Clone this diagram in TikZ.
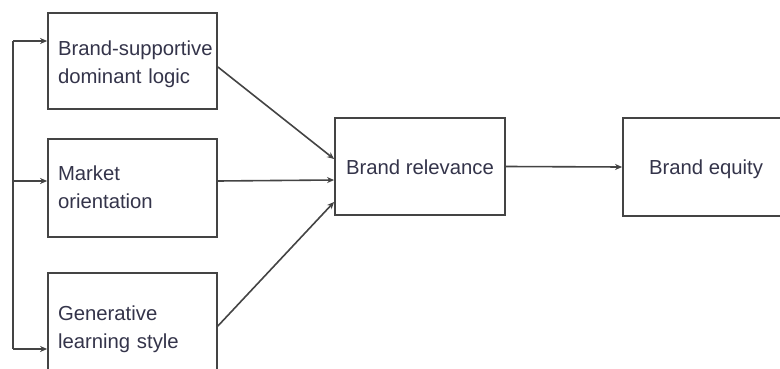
\documentclass[tikz,border=0pt]{standalone}
\usepackage{fontspec}
\setmainfont{Liberation Sans}
\usetikzlibrary{arrows.meta}
\definecolor{linegray}{HTML}{444444}
\definecolor{textgray}{HTML}{34344A}
\begin{document}
\begin{tikzpicture}[x=1pt,y=-1pt,
  box/.style={draw=linegray, line width=1.8pt, rectangle, inner sep=0pt,
    font=\fontsize{20.3}{28}\selectfont, text=textgray},
  leftbox/.style={box, minimum width=169pt, text width=149pt, align=left,
    text height=22pt, text depth=33pt},
  endbox/.style={box, text height=21pt, text depth=5pt},
  link/.style={draw=linegray, line width=1.6pt, -{Stealth[length=7pt,width=6pt]}},
  rail/.style={draw=linegray, line width=1.6pt}]
\clip (0,0) rectangle (780,369);
\fill[white] (0,0) rectangle (780,369);

% antecedents
\node[leftbox, minimum height=96pt] (b1) at (132.5,61) {\mbox{Brand-supportive}\\dominant logic};
\node[leftbox, minimum height=98pt, text depth=38pt] (b2) at (132.5,188) {Market\\orientation};
\node[leftbox, minimum height=97pt, text depth=25pt] (b3) at (132.5,321.5) {Generative\\learning style};

% mediator and outcome
\node[endbox, minimum width=170pt, minimum height=97pt] (rel) at (420,166.5) {Brand relevance};
\node[endbox, minimum width=166pt, minimum height=98pt] (eq) at (706,167) {Brand equity};

% feedback rail on the left
\coordinate (railtop) at (13,41);
\coordinate (railbot) at (13,349);
\draw[rail] (railtop) -- (railbot);
\draw[link] (railtop) -- ([yshift=20pt]b1.west);
\draw[link] (railtop |- 0,181) -- ([yshift=7pt]b2.west);
\draw[link] (railbot) -- ([yshift=-27.5pt]b3.west);

% paths into brand relevance
\draw[link] ([yshift=-6pt]b1.east) -- ([yshift=7.5pt]rel.west);
\draw[link] ([yshift=7pt]b2.east) -- ([yshift=-13.5pt]rel.west);
\draw[link] ([yshift=-4.5pt]b3.east) -- ([yshift=-35.5pt]rel.west);

% brand relevance to brand equity
\draw[link] (rel.east) -- (eq.west);
\end{tikzpicture}
\end{document}
